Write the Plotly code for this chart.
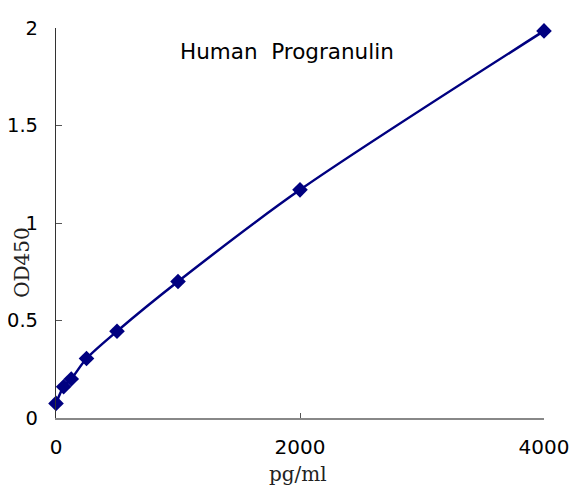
import plotly.graph_objects as go

# standard curve readings
conc = [0, 62.5, 125, 250, 500, 1000, 2000, 4000]
od450 = [0.075, 0.16, 0.20, 0.305, 0.445, 0.70, 1.17, 1.985]

x_ticks = [0, 2000, 4000]
y_ticks = [0, 0.5, 1, 1.5, 2]
y_tick_text = ["0", "0.5", "1", "1.5", "2"]

navy = '#000080'

fig = go.Figure()
fig.add_trace(go.Scatter(
    x=conc,
    y=od450,
    mode='lines+markers',
    line=dict(color=navy, width=2.5, shape='spline', smoothing=0.8),
    marker=dict(symbol='diamond', size=12, color=navy),
    cliponaxis=False,
    showlegend=False
))

fig.update_xaxes(
    range=[0, 4000],
    tickvals=x_ticks,
    ticks='inside', ticklen=5, tickcolor='#555555',
    showline=True, linecolor='#888888', linewidth=1.5,
    showgrid=False, zeroline=False,
    automargin=False,
    ticklabelstandoff=10,
    tickfont=dict(family='DejaVu Sans', size=20, color='black')
)
fig.update_yaxes(
    range=[0, 2],
    tickvals=y_ticks, ticktext=y_tick_text,
    ticks='inside', ticklen=6, tickcolor='#555555',
    showline=True, linecolor='#333333', linewidth=1.2,
    showgrid=False, zeroline=False,
    automargin=False,
    ticklabelstandoff=13,
    tickfont=dict(family='DejaVu Sans', size=19.5, color='black')
)

fig.add_annotation(
    text="Human  Progranulin", xref='paper', yref='paper',
    x=0.473, y=0.941, xanchor='center', yanchor='middle', showarrow=False,
    font=dict(family='DejaVu Sans', size=21.5, color='black')
)
fig.add_annotation(
    text="OD450", xref='paper', yref='paper',
    x=-0.07, y=0.40, xanchor='center', yanchor='middle',
    textangle=-90, showarrow=False,
    font=dict(family='DejaVu Serif', size=20, color='#222222')
)
fig.add_annotation(
    text="pg/ml", xref='paper', yref='paper',
    x=0.496, y=-0.1425, xanchor='center', yanchor='middle', showarrow=False,
    font=dict(family='DejaVu Serif', size=20, color='#222222')
)

fig.update_layout(
    width=577, height=483,
    margin=dict(l=48, r=41, t=20, b=73),
    plot_bgcolor='white',
    paper_bgcolor='white'
)

fig.write_html("out.html")
